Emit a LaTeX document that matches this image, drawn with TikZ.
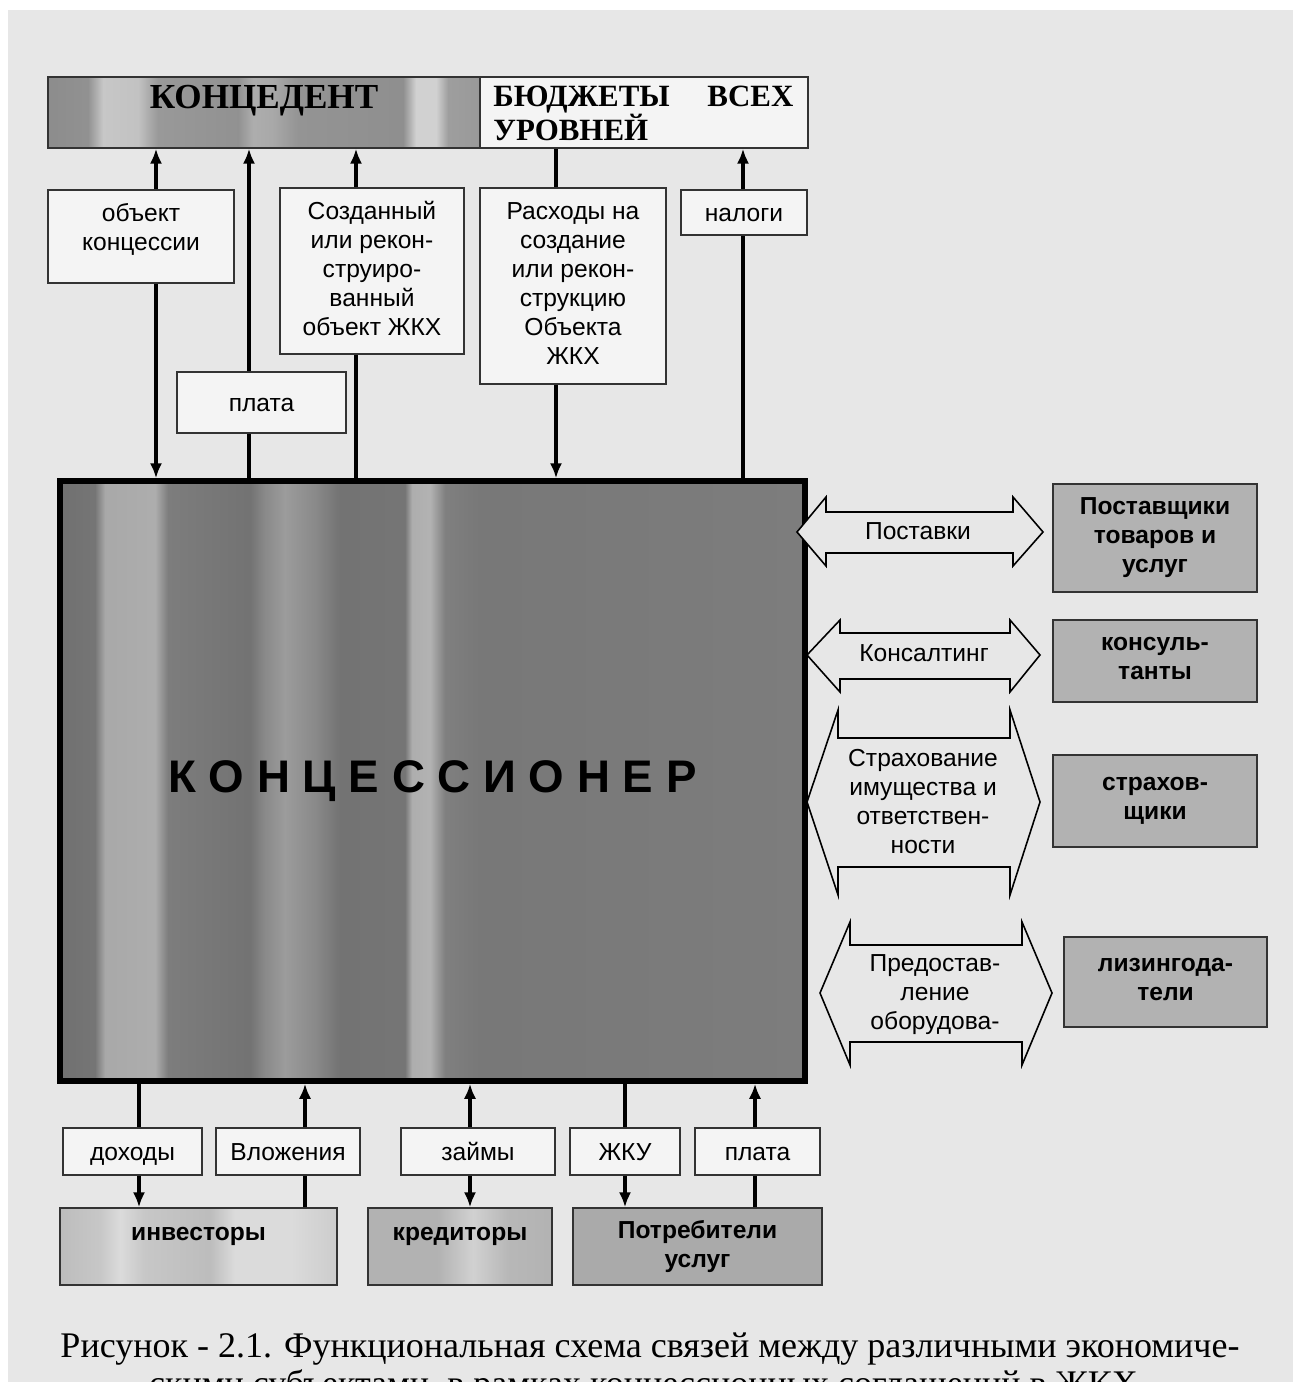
\documentclass[tikz,border=0pt]{standalone}
\usepackage{fontspec}
\setmainfont{Liberation Serif}
\setsansfont{Liberation Sans}
\usetikzlibrary{arrows.meta,calc}
\newcommand\pxl{0.02cm}
\newcommand\topstrut{\rule{0pt}{13pt}}
\newcommand\botstrut{\rule[-3pt]{0pt}{3pt}}
\definecolor{bgc}{gray}{0.905}
\definecolor{boxc}{gray}{0.955}
\definecolor{rboxc}{gray}{0.70}
\definecolor{potrc}{gray}{0.665}
\pgfdeclarehorizontalshading{concsh}{100bp}{rgb(0bp)=(.44,.44,.44); rgb(25bp)=(.44,.44,.44); rgb(27.35bp)=(.46,.46,.46); rgb(28.02bp)=(.66,.66,.66); rgb(31.38bp)=(.68,.68,.68); rgb(32.25bp)=(.49,.49,.49); rgb(37.75bp)=(.45,.45,.45); rgb(38.76bp)=(.54,.54,.54); rgb(40.1bp)=(.61,.61,.61); rgb(42.11bp)=(.54,.54,.54); rgb(43.79bp)=(.45,.45,.45); rgb(48.15bp)=(.46,.46,.46); rgb(48.62bp)=(.68,.68,.68); rgb(49.83bp)=(.7,.7,.7); rgb(50.84bp)=(.5,.5,.5); rgb(53.19bp)=(.47,.47,.47); rgb(75bp)=(.49,.49,.49); rgb(100bp)=(.49,.49,.49)}
\pgfdeclarehorizontalshading{kedsh}{100bp}{rgb(0bp)=(.55,.55,.55); rgb(25bp)=(.55,.55,.55); rgb(29.63bp)=(.57,.57,.57); rgb(31.37bp)=(.78,.78,.78); rgb(35.42bp)=(.76,.76,.76); rgb(37.73bp)=(.6,.6,.6); rgb(46.99bp)=(.57,.57,.57); rgb(48.73bp)=(.68,.68,.68); rgb(51.04bp)=(.66,.66,.66); rgb(53.94bp)=(.58,.58,.58); rgb(66.09bp)=(.56,.56,.56); rgb(67.59bp)=(.82,.82,.82); rgb(69.91bp)=(.82,.82,.82); rgb(71.3bp)=(.62,.62,.62); rgb(75bp)=(.6,.6,.6); rgb(100bp)=(.6,.6,.6)}
\pgfdeclarehorizontalshading{invsh}{100bp}{rgb(0bp)=(.74,.74,.74); rgb(25bp)=(.74,.74,.74); rgb(32.2bp)=(.78,.78,.78); rgb(35.8bp)=(.86,.86,.86); rgb(40.3bp)=(.78,.78,.78); rgb(52.1bp)=(.74,.74,.74); rgb(56.6bp)=(.86,.86,.86); rgb(66.5bp)=(.86,.86,.86); rgb(75bp)=(.8,.8,.8); rgb(100bp)=(.8,.8,.8)}
\pgfdeclarehorizontalshading{kredsh}{100bp}{rgb(0bp)=(.7,.7,.7); rgb(25bp)=(.7,.7,.7); rgb(44bp)=(.7,.7,.7); rgb(53.5bp)=(.82,.82,.82); rgb(63bp)=(.72,.72,.72); rgb(75bp)=(.7,.7,.7); rgb(100bp)=(.7,.7,.7)}
\begin{document}
\begin{tikzpicture}[x=0.02cm,y=-0.02cm,
  sz/.style 2 args={minimum width=#1*\pxl, minimum height=#2*\pxl},
  wbox/.style={draw=black!80, line width=0.9pt, fill=boxc, inner sep=0pt, align=center,
    font=\sffamily\fontsize{14}{16.5}\selectfont,
    execute at begin node=\topstrut, execute at end node=\botstrut},
  gbox/.style={draw=black!80, line width=0.9pt, fill=rboxc, inner sep=0pt, align=center,
    font=\sffamily\bfseries\fontsize{14}{16.5}\selectfont,
    execute at begin node=\topstrut, execute at end node=\botstrut},
  dblarr/.style={draw=black, line width=0.9pt, fill=bgc, line join=miter},
  arrtxt/.style={align=center, inner sep=0pt, font=\sffamily\fontsize{14}{16.5}\selectfont,
    execute at begin node=\topstrut, execute at end node=\botstrut},
  ln/.style={line width=2.1pt},
  arr/.style={line width=2.1pt, -{Latex[length=8.5pt,width=7pt]}}
]
\useasboundingbox (0,0) rectangle (1293,1382);
\fill[white] (0,0) rectangle (1293,1382);
\fill[bgc] (8,10) rectangle (1293,1382);

% top bar
\node[draw=black!80, line width=0.9pt, shade, shading=kedsh, sz={432}{71}, inner sep=0pt] (ked) at (264,112.5) {};
\node[draw=black!80, line width=0.9pt, fill=boxc, sz={328}{71}, inner sep=0pt] (bud) at (644,112.5) {};
\node[font=\bfseries\fontsize{20}{24}\selectfont, inner sep=0pt] (kedt) at (264,101) {КОНЦЕДЕНТ};
\node[font=\bfseries\fontsize{17.6}{18.6}\selectfont, align=left, inner sep=0pt, anchor=west] (budt) at (493,113.5)
  {\makebox[300\dimexpr\pxl\relax][s]{БЮДЖЕТЫ ВСЕХ}\\УРОВНЕЙ};

% upper boxes
\node[wbox, sz={186}{93}] (obj) at (141,236.5) {объект\\концессии\\[-8.5pt]};
\node[wbox, sz={169}{61}] (plata1) at (261.5,402.5) {плата};
\node[wbox, sz={184}{166}] (sozd) at (372,271) {Созданный\\или рекон-\\струиро-\\ванный\\объект ЖКХ};
\node[wbox, sz={186}{196}] (rash) at (573,286) {Расходы на\\создание\\или рекон-\\струкцию\\Объекта\\ЖКХ};
\node[wbox, sz={126}{45}] (nal) at (744,212.5) {налоги};

% concessioner
\node[draw=black, line width=3.2pt, shade, shading=concsh, sz={745}{600}, inner sep=0pt,
  font=\sffamily\bfseries\fontsize{26}{30}\selectfont] (conc) at (432.5,781) {К О Н Ц Е С С И О Н Е Р};

% vertical line positions
\coordinate (t1) at (156,0);
\coordinate (t2) at (249,0);
\coordinate (t3) at (356,0);
\coordinate (t4) at (556,0);
\coordinate (t5) at (743,0);
\coordinate (b1) at (139,0);
\coordinate (b2) at (305,0);
\coordinate (b3) at (470,0);
\coordinate (b4) at (625,0);
\coordinate (b5) at (755,0);

% top connectors
\draw[arr] (obj.north -| t1) -- (ked.south -| t1);
\draw[arr] (obj.south -| t1) -- (conc.north -| t1);
\draw[arr] (plata1.north -| t2) -- (ked.south -| t2);
\draw[ln] (conc.north -| t2) -- (plata1.south -| t2);
\draw[arr] (sozd.north -| t3) -- (ked.south -| t3);
\draw[ln] (conc.north -| t3) -- (sozd.south -| t3);
\draw[ln] (bud.south -| t4) -- (rash.north -| t4);
\draw[arr] (rash.south -| t4) -- (conc.north -| t4);
\draw[arr] (nal.north -| t5) -- (bud.south -| t5);
\draw[ln] (conc.north -| t5) -- (nal.south -| t5);

% right side double arrows
\draw[dblarr] (797,532) -- (826,497) -- (826,512) -- (1013,512) -- (1013,497) -- (1043,532) -- (1013,566) -- (1013,553) -- (826,553) -- (826,566) -- cycle;
\node[arrtxt] (postt) at (918,531) {Поставки};
\draw[dblarr] (807,655) -- (840,620) -- (840,633) -- (1010,633) -- (1010,620) -- (1040,655) -- (1010,692) -- (1010,679) -- (840,679) -- (840,692) -- cycle;
\node[arrtxt] (konst) at (924,653) {Консалтинг};
\draw[dblarr] (807,802) -- (838,710) -- (838,738) -- (1010,738) -- (1010,710) -- (1040,802) -- (1010,895) -- (1010,867) -- (838,867) -- (838,895) -- cycle;
\node[arrtxt] (strt) at (923,804) {Страхование\\имущества и\\ответствен-\\ности};
\draw[dblarr] (820,993) -- (850,922) -- (850,945) -- (1022,945) -- (1022,922) -- (1052,993) -- (1022,1065) -- (1022,1042) -- (850,1042) -- (850,1065) -- cycle;
\node[arrtxt] (predt) at (935,995) {Предостав-\\ление\\оборудова-};

% right boxes
\node[gbox, sz={204}{108}] (post) at (1155,538) {Поставщики\\товаров и\\услуг};
\node[gbox, sz={204}{82}] (kons) at (1155,661) {консуль-\\танты};
\node[gbox, sz={204}{92}] (strah) at (1155,801) {страхов-\\щики};
\node[gbox, sz={203}{90}] (liz) at (1165.5,982) {лизингода-\\тели};

% bottom small boxes
\node[wbox, sz={139}{47}] (doh) at (132.5,1151.5) {доходы};
\node[wbox, sz={144}{47}] (vl) at (288,1151.5) {Вложения};
\node[wbox, sz={154}{47}] (zaim) at (478,1151.5) {займы};
\node[wbox, sz={110}{47}] (zhku) at (625,1151.5) {ЖКУ};
\node[wbox, sz={125}{47}] (plata2) at (757.5,1151.5) {плата};

% bottom big boxes
\node[gbox, shade, shading=invsh, sz={277}{77}] (inv) at (198.5,1246.5) {инвесторы\\[-5.6pt]};
\node[gbox, shade, shading=kredsh, sz={184}{77}] (kred) at (460,1246.5) {кредиторы\\[-5.6pt]};
\node[gbox, fill=potrc, sz={249}{77}] (potr) at (697.5,1246.5) {Потребители\\услуг};

% bottom connectors
\draw[ln] (conc.south -| b1) -- (doh.north -| b1);
\draw[arr] (doh.south -| b1) -- (inv.north -| b1);
\draw[ln] (inv.north -| b2) -- (vl.south -| b2);
\draw[arr] (vl.north -| b2) -- (conc.south -| b2);
\draw[arr] (zaim.north -| b3) -- (conc.south -| b3);
\draw[arr] (zaim.south -| b3) -- (kred.north -| b3);
\draw[ln] (conc.south -| b4) -- (zhku.north -| b4);
\draw[arr] (zhku.south -| b4) -- (potr.north -| b4);
\draw[ln] (potr.north -| b5) -- (plata2.south -| b5);
\draw[arr] (plata2.north -| b5) -- (conc.south -| b5);

% caption
\begin{scope}
\clip (0,0) rectangle (1293,1382);
\node[font=\fontsize{20.5}{25}\selectfont, anchor=base, inner sep=0pt] (cap1) at (650,1357)
  {Рисунок - 2.1. Функциональная схема связей между различными экономиче-};
\node[font=\fontsize{20.5}{25}\selectfont, anchor=base, inner sep=0pt] (cap2) at (648,1395)
  {скими субъектами, в рамках концессионных соглашений в ЖКХ.};
\end{scope}
\end{tikzpicture}
\end{document}
